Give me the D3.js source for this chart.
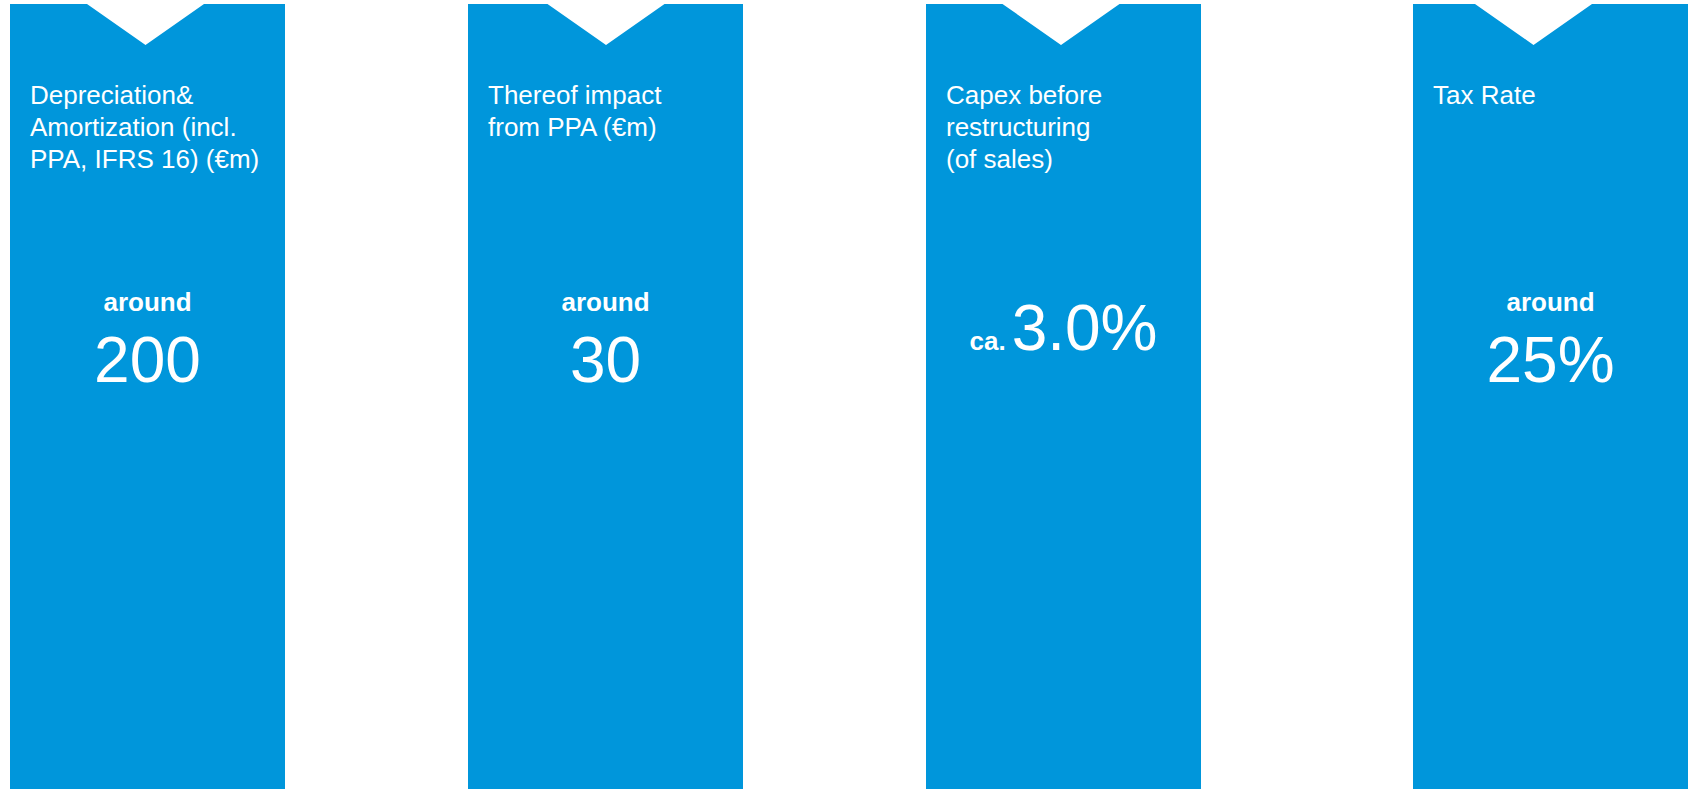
<!DOCTYPE html>
<html>
<head>
<meta charset="utf-8">
<script src="https://cdn.jsdelivr.net/npm/d3@7"></script>
<style>
  html, body { margin: 0; padding: 0; background: #ffffff; }
  svg { display: block; }
  text { font-family: "Liberation Sans", Arial, Helvetica, sans-serif; fill: #ffffff; }
</style>
</head>
<body>
<svg id="chart" width="1688" height="789"></svg>
<script>
// ---- data ----
const categories = ["da", "ppa", "capex", "tax"];
const titles = [
  ["Depreciation&", "Amortization (incl.", "PPA, IFRS 16) (€m)"],
  ["Thereof impact", "from PPA (€m)"],
  ["Capex before", "restructuring", "(of sales)"],
  ["Tax Rate"]
];
const qualifiers = ["around", "around", "ca.", "around"];
const values = ["200", "30", "3.0%", "25%"];

// ---- layout ----
const W = 1688, H = 789;
const panelW = 275, panelTop = 4, notchHalf = 58.5, notchDepth = 41;
const color = "#0096DB";

const x = d3.scaleOrdinal().domain(categories).range([10, 468, 926, 1413]);
const notchX = d3.scaleOrdinal().domain(categories).range([145.5, 606, 1061, 1533.5]);
const y = d3.scaleLinear().domain([0, H]).range([0, H]);

const svg = d3.select("#chart");

const rows = categories.map((c, i) => ({
  cat: c, title: titles[i], qual: qualifiers[i], value: values[i]
}));

const g = svg.selectAll("g.panel").data(rows).join("g")
  .attr("class", "panel")
  .attr("transform", d => `translate(${x(d.cat)},0)`);

g.append("path")
  .attr("fill", color)
  .attr("d", d => {
    const nc = notchX(d.cat) - x(d.cat);
    const p = d3.path();
    p.moveTo(0, y(panelTop));
    p.lineTo(nc - notchHalf, y(panelTop));
    p.lineTo(nc, y(panelTop + notchDepth));
    p.lineTo(nc + notchHalf, y(panelTop));
    p.lineTo(panelW, y(panelTop));
    p.lineTo(panelW, y(H));
    p.lineTo(0, y(H));
    p.closePath();
    return p.toString();
  });

// titles
g.append("text")
  .attr("x", 20)
  .attr("y", y(104))
  .style("font-size", "26px")
  .selectAll("tspan").data(d => d.title).join("tspan")
  .attr("x", 20)
  .attr("dy", (d, i) => i === 0 ? 0 : 32)
  .text(d => d);

// values
g.each(function(d) {
  const sel = d3.select(this);
  const cx = panelW / 2;
  if (d.qual === "ca.") {
    const t = sel.append("text")
      .attr("x", cx).attr("y", y(350))
      .attr("text-anchor", "middle");
    t.append("tspan").style("font-size", "26px").style("font-weight", "bold").text(d.qual);
    t.append("tspan").style("font-size", "64px").attr("dx", 6).text(d.value);
  } else {
    sel.append("text")
      .attr("x", cx).attr("y", y(311))
      .attr("text-anchor", "middle")
      .style("font-size", "26px").style("font-weight", "bold")
      .text(d.qual);
    sel.append("text")
      .attr("x", cx).attr("y", y(382))
      .attr("text-anchor", "middle")
      .style("font-size", "64px")
      .text(d.value);
  }
});
</script>
</body>
</html>
